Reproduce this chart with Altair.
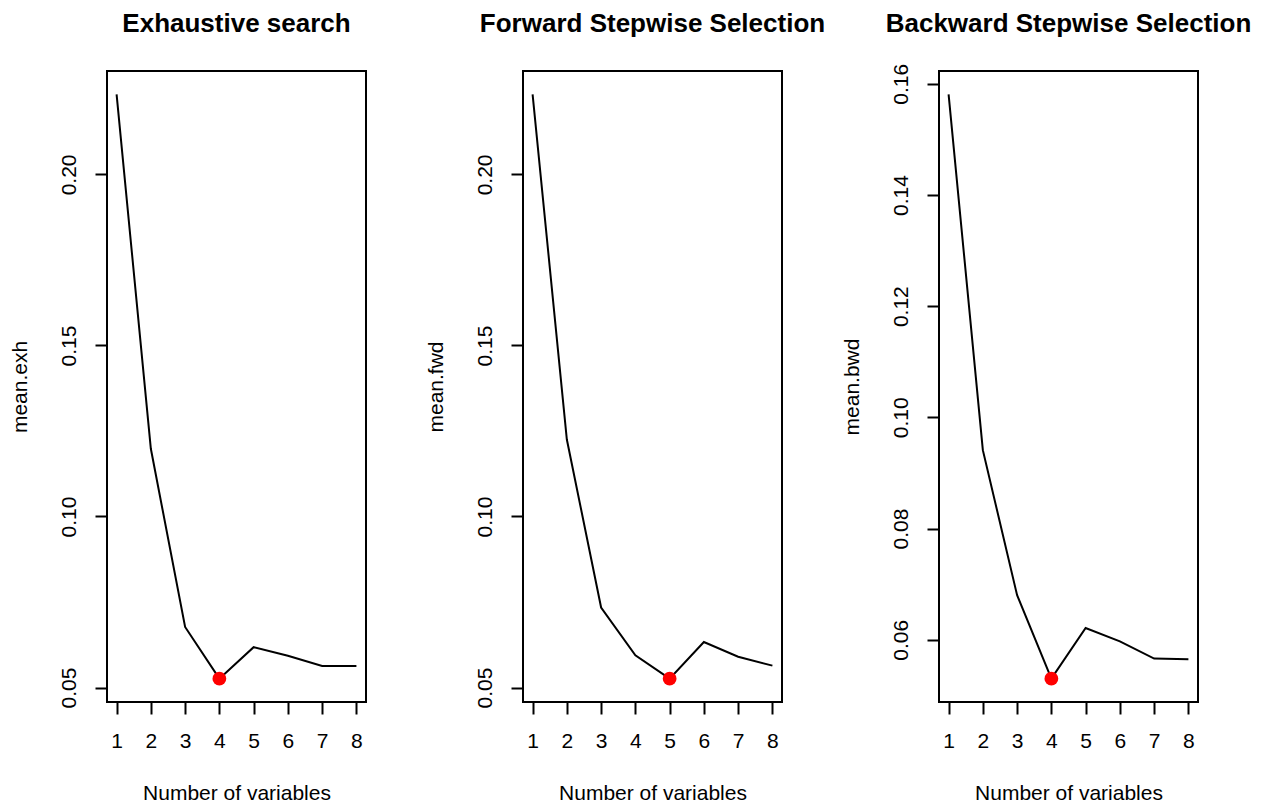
import altair as alt
import pandas as pd

# ---- data ----
n_vars = [1, 2, 3, 4, 5, 6, 7, 8]
mean_exh = [0.2234, 0.1198, 0.0677, 0.0526, 0.0618, 0.0593, 0.0563, 0.0563]
mean_fwd = [0.2234, 0.1225, 0.0734, 0.0594, 0.0526, 0.0633, 0.0590, 0.0564]
mean_bwd = [0.1581, 0.0941, 0.0680, 0.0530, 0.0621, 0.0597, 0.0566, 0.0565]

titles = ["Exhaustive search", "Forward Stepwise Selection", "Backward Stepwise Selection"]
y_titles = ["mean.exh", "mean.fwd", "mean.bwd"]
x_title = "Number of variables"
yticks_a = [0.05, 0.10, 0.15, 0.20]
yticks_b = [0.06, 0.08, 0.10, 0.12, 0.14, 0.16]
xticks = n_vars

FONT = "Liberation Sans"
W, H = 259, 631


def panel(vals, title, ylab, yticks):
    df = pd.DataFrame({"n": n_vars, "v": vals})
    lo, hi = min(vals), max(vals)
    pad = 0.04 * (hi - lo)
    xpad = 0.04 * (max(n_vars) - min(n_vars))
    base = alt.Chart(df).encode(
        x=alt.X(
            "n:Q",
            scale=alt.Scale(domain=[min(n_vars) - xpad, max(n_vars) + xpad], nice=False, zero=False),
            axis=alt.Axis(
                values=xticks, format="d", title=x_title, grid=False, domain=False,
                tickSize=12, tickWidth=2, tickColor="black",
                labelFont=FONT, labelFontSize=21, labelColor="black",
                labelPadding=33, labelBaseline="alphabetic", labelAlign="center",
                titleFont=FONT, titleFontSize=21, titleFontWeight="normal", titleColor="black",
                titleX=W / 2, titleY=97, titleBaseline="alphabetic", titleAlign="center",
            ),
        ),
        y=alt.Y(
            "v:Q",
            scale=alt.Scale(domain=[lo - pad, hi + pad], nice=False, zero=False),
            axis=alt.Axis(
                values=yticks, format=".2f", title=ylab, grid=False, domain=False,
                tickSize=12, tickWidth=2, tickColor="black",
                labelFont=FONT, labelFontSize=21, labelColor="black",
                labelAngle=270, labelAlign="center", labelBaseline="alphabetic", labelPadding=20,
                titleFont=FONT, titleFontSize=21, titleFontWeight="normal", titleColor="black",
                titleX=-81, titleY=H / 2, titleAngle=270, titleBaseline="alphabetic", titleAlign="center",
            ),
        ),
    )
    line = base.mark_line(color="black", strokeWidth=2)
    pt = (
        base.mark_circle(color="#FF0000", size=190, opacity=1)
        .transform_joinaggregate(m="min(v)")
        .transform_filter("datum.v == datum.m")
    )
    ttl = (
        alt.Chart(pd.DataFrame({"t": [title]}))
        .mark_text(font=FONT, fontSize=26, fontWeight="bold", color="black",
                   align="center", baseline="alphabetic")
        .encode(text="t:N", x=alt.value(W / 2), y=alt.value(-39))
    )
    return alt.layer(line, pt, ttl).properties(width=W, height=H)


chart = (
    alt.hconcat(
        panel(mean_exh, titles[0], y_titles[0], yticks_a),
        panel(mean_fwd, titles[1], y_titles[1], yticks_a),
        panel(mean_bwd, titles[2], y_titles[2], yticks_b),
        spacing=157,
        bounds="flush",
    )
    .properties(padding={"left": 0, "top": 2, "right": 0, "bottom": 0}, background="white")
    .configure_view(stroke="black", strokeWidth=2)
)

chart.save("out.html", embed_options={"renderer": "svg", "actions": False})
